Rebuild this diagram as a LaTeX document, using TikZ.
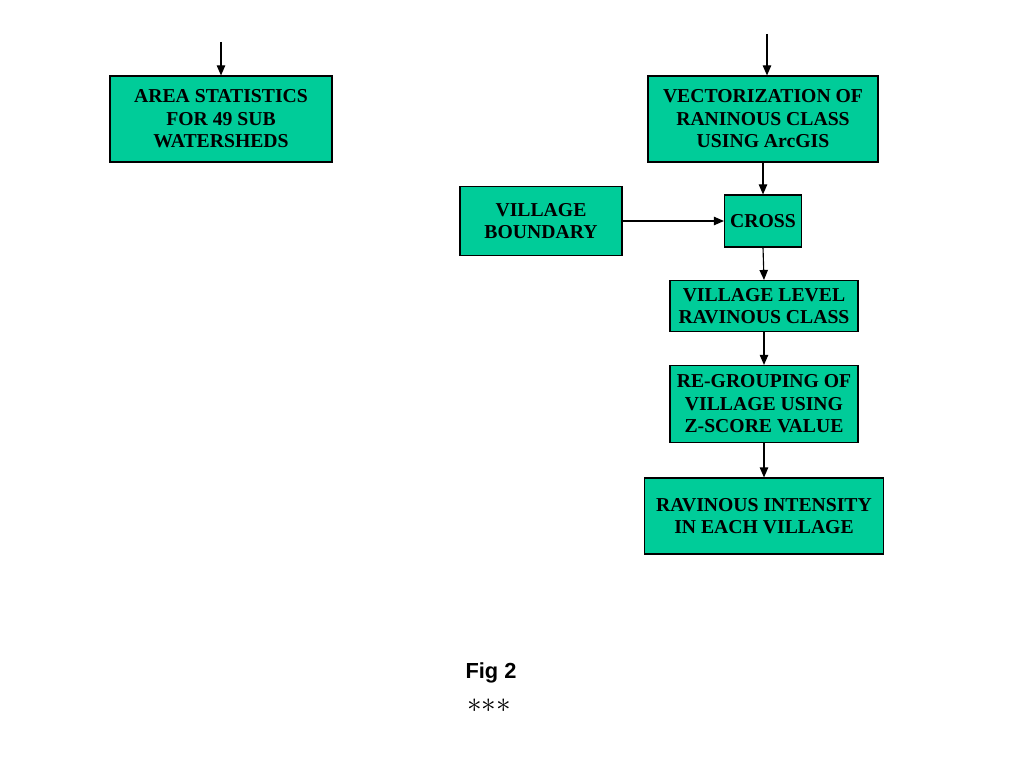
\documentclass[tikz,border=0pt]{standalone}
\usepackage{fontspec}
\setmainfont{Liberation Serif}
\setsansfont{Liberation Sans}
\usetikzlibrary{arrows.meta,positioning}
\definecolor{BoxGreen}{HTML}{00CC99}
\tikzset{
  procbox/.style={
    draw=black,
    line width=0.8pt,
    fill=BoxGreen,
    align=center,
    inner sep=0pt,
    font=\bfseries\fontsize{14}{16}\selectfont
  },
  flowarrow/.style={
    -{Triangle[length=2.5mm,width=2.1mm]},
    line width=0.8pt,
    draw=black
  }
}
% box: name, centre (px), width (px), height (px), text
\newcommand{\procnode}[5]{%
  \node[procbox, minimum width=#3*0.025cm, minimum height=#4*0.025cm] (#1) at (#2) {#5};
}

\begin{document}
\begin{tikzpicture}[x=0.025cm,y=-0.025cm]
\useasboundingbox (0,0) rectangle (1024,768);

% Left branch.
\procnode{areastat}{221,119}{222}{86}{AREA STATISTICS\\FOR 49 SUB\\WATERSHEDS}
\coordinate (leftin) at (221,42);

% Right branch.
\procnode{vector}{763,119}{230}{86}{VECTORIZATION OF\\RANINOUS CLASS\\USING ArcGIS}
\coordinate (rightin) at (767,34);

\procnode{boundary}{541,221}{162}{69}{VILLAGE\\BOUNDARY}
\procnode{cross}{763,221}{77}{52}{CROSS}
\procnode{vlevel}{764,306}{188}{51}{VILLAGE LEVEL\\RAVINOUS CLASS}
\procnode{regroup}{764,404}{188}{77}{RE-GROUPING OF\\VILLAGE USING\\Z-SCORE VALUE}
\procnode{intensity}{764,516}{239}{76}{RAVINOUS INTENSITY\\IN EACH VILLAGE}

% Arrows.
\draw[flowarrow] (leftin) -- (areastat.north);
\draw[flowarrow] (rightin) -- (rightin |- vector.north);
\draw[flowarrow] (vector.south) -- (cross.north);
\draw[flowarrow] (boundary.east) -- (cross.west);
\draw[flowarrow] (cross.south) -- (vlevel.north);
\draw[flowarrow] (vlevel.south) -- (regroup.north);
\draw[flowarrow] (regroup.south) -- (intensity.north);

% Caption.
\node[font=\sffamily\bfseries\fontsize{15.5}{17}\selectfont] (caption) at (491,673) {Fig 2};
\node[font=\fontsize{21.5}{23}\selectfont] (stars) at (489,706) {${*}{*}{*}$};

\end{tikzpicture}
\end{document}
